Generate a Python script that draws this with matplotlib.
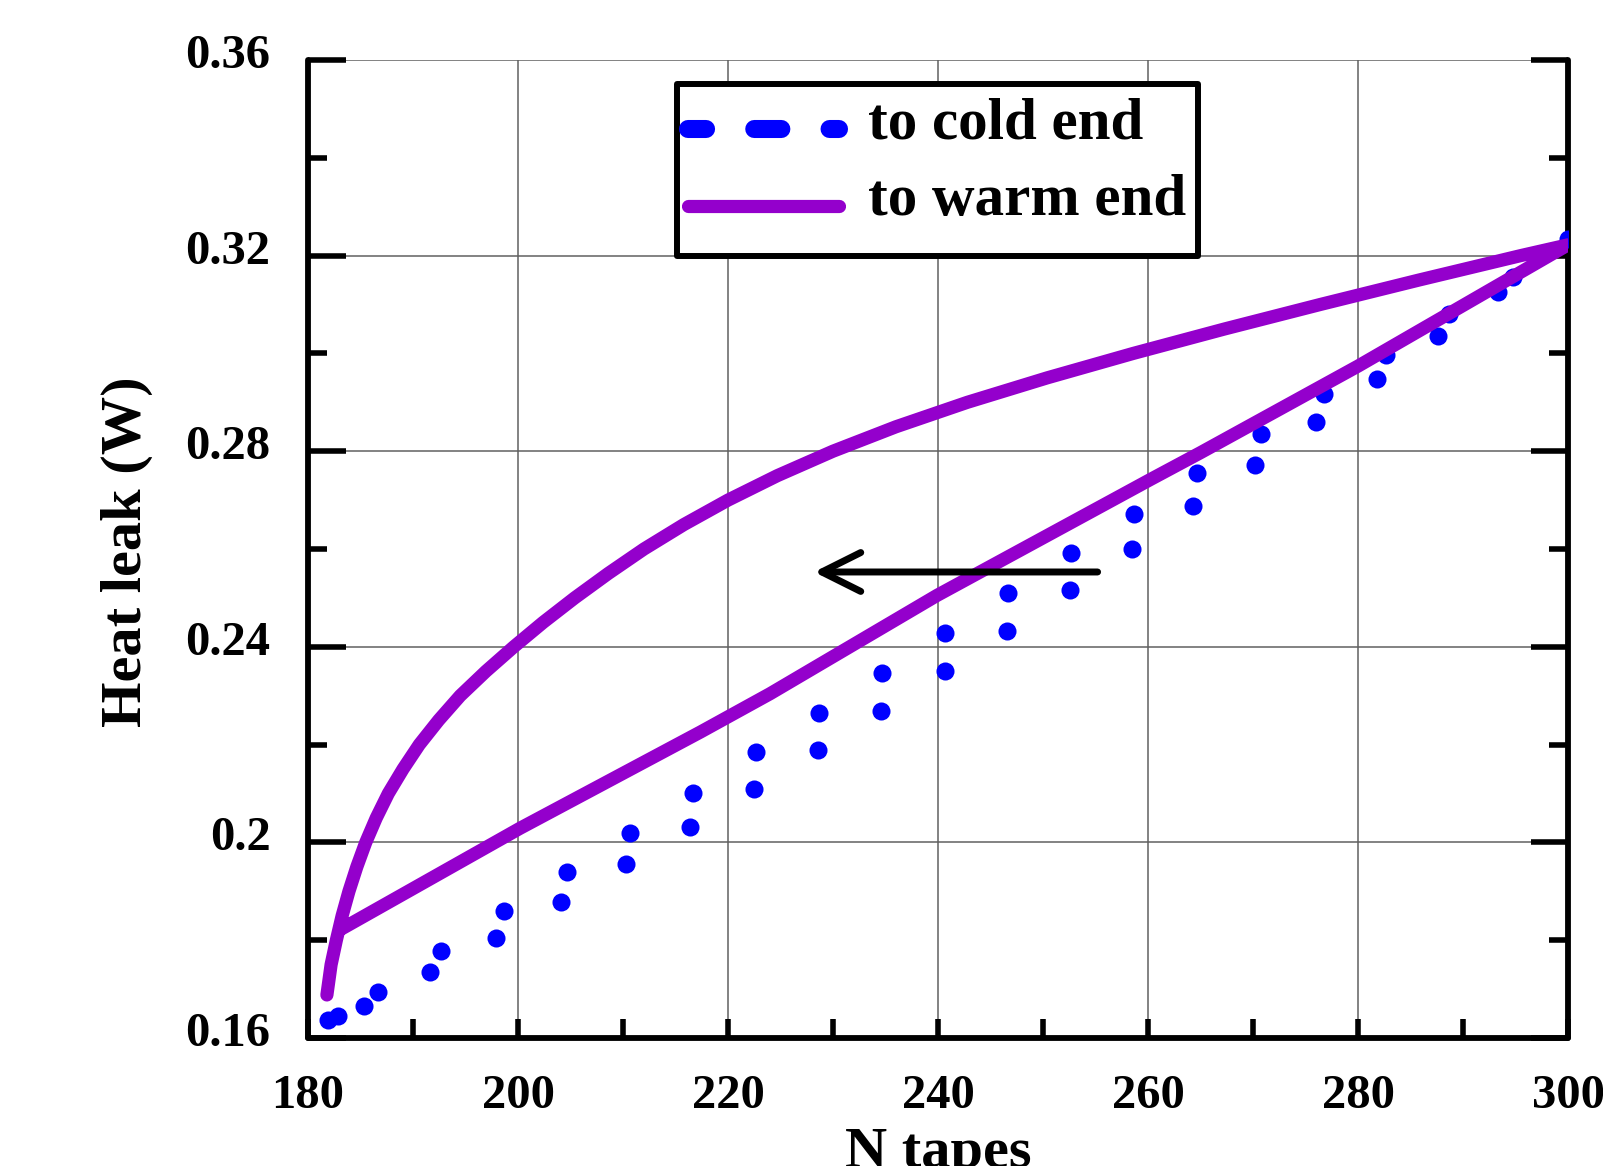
import matplotlib
matplotlib.use("Agg")
import matplotlib.pyplot as plt
from matplotlib.lines import Line2D
from matplotlib.patches import Rectangle
from matplotlib.transforms import ScaledTranslation
from matplotlib.ticker import MultipleLocator, FixedLocator, FixedFormatter

plt.rcParams['font.family'] = ['Liberation Serif', 'DejaVu Serif']
plt.rcParams['font.weight'] = 'bold'

# ---- data ----
cold_x = [181.9, 182.9, 185.3, 186.7, 191.6, 192.7, 197.9, 198.7, 204.1, 204.7,
          210.3, 210.7, 216.4, 216.7, 222.5, 222.7, 228.6, 228.7, 234.6, 234.7,
          240.7, 240.7, 246.6, 246.7, 252.6, 252.7, 258.5, 258.7, 264.3, 264.7,
          270.2, 270.8, 276.0, 276.8, 281.8, 282.7, 287.6, 288.7, 293.3, 294.8,
          300.0]
cold_y = [0.1637, 0.1645, 0.1666, 0.1695, 0.1734, 0.1777, 0.1805, 0.1859, 0.1879, 0.1939,
          0.1955, 0.2020, 0.2031, 0.2102, 0.2109, 0.2184, 0.2188, 0.2265, 0.2269, 0.2346,
          0.2350, 0.2428, 0.2432, 0.2510, 0.2516, 0.2591, 0.2600, 0.2671, 0.2688, 0.2755,
          0.2772, 0.2835, 0.2860, 0.2916, 0.2947, 0.2997, 0.3036, 0.3080, 0.3125, 0.3157,
          0.3234]

# warm end: lower branch (junction -> 300) then upper branch back (300 -> start)
warm_lower_x = [183.1, 200.2, 217.4, 224.0, 239.9, 260.3, 265.0, 280.0, 300.0]
warm_lower_y = [0.1822, 0.2029, 0.2226, 0.2304, 0.2505, 0.2743, 0.2797, 0.2974, 0.3222]
warm_upper_x = [300.0, 295.5, 285.8, 276.4, 267.3, 258.6, 250.4, 242.8, 236.0, 230.0,
                224.7, 220.0, 215.8, 212.0, 208.6, 205.4, 202.4, 199.6, 196.95, 194.5,
                192.45, 190.6, 189.05, 187.65, 186.5, 185.5, 184.65, 183.9, 183.25, 182.7,
                182.2, 181.8]
warm_upper_y = [0.3222, 0.320, 0.315, 0.310, 0.305, 0.300, 0.295, 0.290, 0.285, 0.280,
                0.275, 0.270, 0.265, 0.260, 0.255, 0.250, 0.245, 0.240, 0.235, 0.230,
                0.225, 0.220, 0.215, 0.210, 0.205, 0.200, 0.195, 0.190, 0.185, 0.180,
                0.175, 0.1688]

arrow_start = (255.2, 0.2553)
arrow_end = (228.2, 0.2553)

x_ticks = [180, 200, 220, 240, 260, 280, 300]
x_ticklabels = ['180', '200', '220', '240', '260', '280', '300']
y_ticks = [0.16, 0.20, 0.24, 0.28, 0.32, 0.36]
y_ticklabels = ['0.16', '0.2', '0.24', '0.28', '0.32', '0.36']

labels = ['to cold end', 'to warm end']

BLUE = '#0000FF'
PURPLE = '#9400CC'

fig = plt.figure(figsize=(16.03, 11.66), dpi=100)
ax = fig.add_axes([308/1603, 1-1038/1166, (1568-308)/1603, (1038-60)/1166])

ax.plot(cold_x, cold_y, linestyle='none', marker='o', markersize=13,
        color=BLUE, markeredgewidth=0, zorder=3)
ax.plot(warm_lower_x + warm_upper_x[1:], warm_lower_y + warm_upper_y[1:],
        color=PURPLE, lw=9.5, solid_capstyle='round', solid_joinstyle='round', zorder=4)

ax.annotate('', xy=arrow_end, xytext=arrow_start,
            arrowprops=dict(arrowstyle='->,head_length=28,head_width=14', lw=5,
                            color='black', mutation_scale=1, shrinkA=0, shrinkB=0,
                            capstyle='round', joinstyle='round'), zorder=5)

ax.set_xlim(180, 300)
ax.set_ylim(0.16, 0.36)
ax.xaxis.set_major_locator(FixedLocator(x_ticks))
ax.xaxis.set_major_formatter(FixedFormatter(x_ticklabels))
ax.xaxis.set_minor_locator(MultipleLocator(10))
ax.yaxis.set_major_locator(FixedLocator(y_ticks))
ax.yaxis.set_major_formatter(FixedFormatter(y_ticklabels))
ax.yaxis.set_minor_locator(MultipleLocator(0.02))

ax.grid(True, which='major', color='#606060', lw=1.1, zorder=0)
ax.set_axisbelow(True)

for s in ['left', 'right', 'bottom']:
    ax.spines[s].set_linewidth(4.2)
    ax.spines[s].set_capstyle('round')
ax.spines['top'].set_visible(False)

ax.tick_params(axis='both', which='both', direction='in', width=4, right=True, top=False,
               labelsize=35)
ax.tick_params(axis='y', which='major', length=27, pad=27)
ax.tick_params(axis='y', which='minor', length=14)
ax.tick_params(axis='x', which='both', length=14)
ax.tick_params(axis='x', which='major', pad=26)
for lab in ax.get_xticklabels():
    lab.set_fontweight('bold')
for lab in ax.get_yticklabels():
    lab.set_fontweight('bold')
    lab.set_transform(lab.get_transform() + ScaledTranslation(0, 0.09, fig.dpi_scale_trans))

fig.text(127/1603, 1-552/1166, 'Heat leak (W)', rotation=90, ha='center', va='center',
         fontsize=42, fontweight='bold')
fig.text(938/1603, 1-1167/1166, 'N tapes', ha='center', va='baseline',
         fontsize=42, fontweight='bold')

# legend frame
frame = Rectangle((677/1603, 1-256/1166), (1198-677)/1603, (256-84)/1166,
                  transform=fig.transFigure, facecolor='white', edgecolor='black',
                  lw=4.3, zorder=5.5, clip_on=False, joinstyle='round')
ax.add_patch(frame)

handles = [Line2D([], [], color=BLUE, lw=13, linestyle=(0.5, (1.5, 2.67)),
                  dash_capstyle='round'),
           Line2D([], [], color=PURPLE, lw=9.5, solid_capstyle='round')]
leg = ax.legend(handles, labels, loc='upper left',
                bbox_to_anchor=(688/1603, 1-97/1166), bbox_transform=fig.transFigure,
                borderaxespad=0, frameon=False,
                prop={'family': 'Liberation Serif', 'weight': 'bold', 'size': 42.5},
                handlelength=2.55, handletextpad=0.5, borderpad=0, labelspacing=0.38)
leg.set_zorder(6)
for ln in leg.get_lines():
    ln.set_ydata([y - 8 for y in ln.get_ydata()])

fig.savefig('out.png', dpi=100)
